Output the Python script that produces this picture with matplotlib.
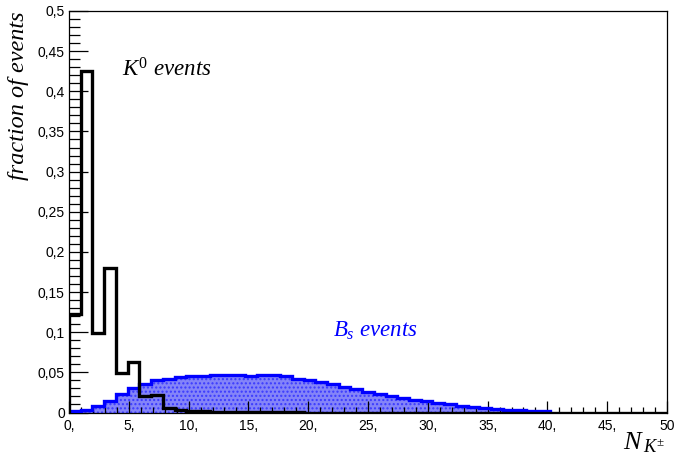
import numpy as np
import matplotlib
matplotlib.use("Agg")
import matplotlib.pyplot as plt
from matplotlib.ticker import MultipleLocator, FixedLocator

# histogram binning: 51 bins over [0, 50]
n_bins = 51
x_min, x_max = 0, 50

# K0 events, fraction per bin
k0_frac = [0.123, 0.425, 0.099, 0.180, 0.049, 0.063, 0.020, 0.022, 0.006, 0.0035,
           0.002, 0.002, 0.0008, 0.0008, 0.0006, 0.0005, 0.0004, 0.0003, 0.0002, 0.0002,
           0, 0, 0, 0, 0, 0, 0, 0, 0, 0,
           0, 0, 0, 0, 0, 0, 0, 0, 0, 0,
           0, 0, 0, 0, 0, 0, 0, 0, 0, 0, 0]

# Bs events, fraction per bin (zero beyond bin 40)
bs_frac = [0.0015, 0.003, 0.008, 0.014, 0.023, 0.030, 0.036, 0.040, 0.042, 0.044,
           0.045, 0.046, 0.0465, 0.047, 0.047, 0.046, 0.047, 0.047, 0.045, 0.042,
           0.040, 0.038, 0.035, 0.032, 0.029, 0.026, 0.023, 0.020, 0.018, 0.016,
           0.014, 0.012, 0.010, 0.008, 0.0065, 0.005, 0.004, 0.003, 0.0025, 0.002,
           0.0015]

y_ticks = [0, 0.05, 0.1, 0.15, 0.2, 0.25, 0.3, 0.35, 0.4, 0.45, 0.5]
y_labels = ["0", "0,05", "0,1", "0,15", "0,2", "0,25", "0,3", "0,35", "0,4", "0,45", "0,5"]
x_ticks = [0, 5, 10, 15, 20, 25, 30, 35, 40, 45, 50]
x_labels = ["0,", "5,", "10,", "15,", "20,", "25,", "30,", "35,", "40,", "45,", "50"]

plt.rcParams['font.family'] = ['Liberation Sans', 'DejaVu Sans']
plt.rcParams['mathtext.fontset'] = 'custom'
plt.rcParams['mathtext.it'] = 'Liberation Serif:italic'
plt.rcParams['mathtext.rm'] = 'Liberation Serif'
plt.rcParams['hatch.linewidth'] = 1.0

edges = np.linspace(x_min, x_max, n_bins + 1)

fig = plt.figure(figsize=(6.75, 4.58), dpi=100)
ax = fig.add_axes([69 / 675, 1 - 412.5 / 458, 598 / 675, 401.5 / 458])

# Bs: filled, dotted blue
bs = np.array(bs_frac)
ax.stairs(bs, edges[:len(bs) + 1], fill=True, facecolor='#8484f8',
          edgecolor='#3a3aff', hatch='....', linewidth=0, zorder=1)
ax.stairs(bs, edges[:len(bs) + 1], color='#0000ff', linewidth=2.4, zorder=3)

# K0: black outline
ax.stairs(np.array(k0_frac), edges, color='black', linewidth=2.4, zorder=4)

ax.set_xlim(x_min, x_max)
ax.set_ylim(0, 0.5)

ax.yaxis.set_major_locator(FixedLocator(y_ticks))
ax.set_yticklabels(y_labels)
ax.yaxis.set_minor_locator(MultipleLocator(0.01))
ax.xaxis.set_major_locator(FixedLocator(x_ticks))
ax.set_xticklabels(x_labels)
ax.xaxis.set_minor_locator(MultipleLocator(1))

ax.tick_params(axis='both', which='both', direction='in', labelsize=10,
               top=False, right=False, colors='black', width=0.9)
ax.tick_params(axis='y', which='major', length=14, pad=3)
ax.tick_params(axis='y', which='minor', length=8)
ax.tick_params(axis='x', which='major', length=9, pad=5)
ax.tick_params(axis='x', which='minor', length=4.5)
for side in ax.spines.values():
    side.set_linewidth(0.9)

# titles and labels
fig.text(19 / 675, 1 - 11 / 458, 'fraction of events', rotation=90,
         ha='center', va='top', fontsize=17.5,
         family='Liberation Serif', style='italic')
fig.text(665 / 675, 1 - 449 / 458, r'$N_{\,K^{\pm}}$', ha='right', va='baseline',
         fontsize=19)

ax.text(4.43, 0.418, r'$K^{\mathit{0}}$ events', fontsize=16.5,
        family='Liberation Serif', style='italic', color='black', va='baseline')
ax.text(22.07, 0.095, r'$B_{s}$ events', fontsize=16.5,
        family='Liberation Serif', style='italic', color='#0000ff', va='baseline')

fig.savefig('out.png', dpi=100)
